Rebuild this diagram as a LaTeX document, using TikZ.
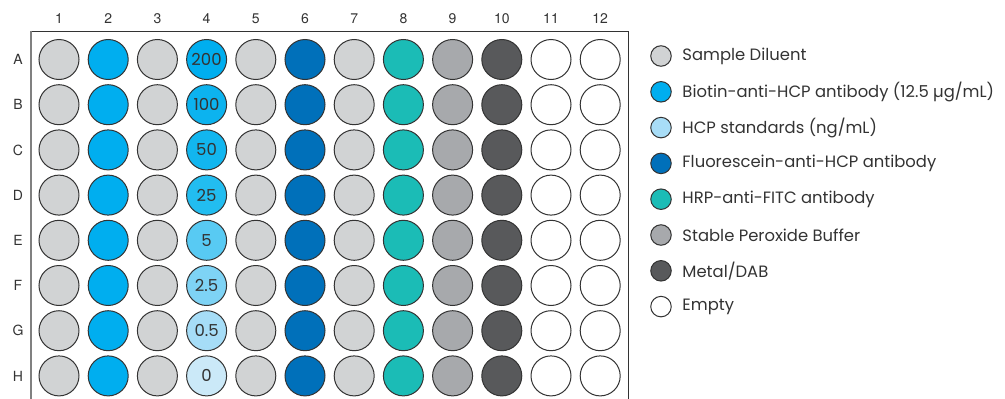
\documentclass[tikz,border=0pt]{standalone}
\usepackage{fontspec}
\setmainfont{Poppins}
\newfontfamily\axisfont{TeX Gyre Heros}
\usetikzlibrary{positioning}
\definecolor{diluent}{HTML}{D1D3D4}
\definecolor{biotin}{HTML}{00AEEF}
\definecolor{hcpstd}{HTML}{A8DDF7}
\definecolor{fluor}{HTML}{0070BA}
\definecolor{hrp}{HTML}{1BBCB6}
\definecolor{peroxide}{HTML}{A7A9AC}
\definecolor{metal}{HTML}{58595B}
\definecolor{inkgray}{HTML}{333333}
\definecolor{hcpA}{HTML}{00AEEF}
\definecolor{hcpB}{HTML}{0CB3EF}
\definecolor{hcpC}{HTML}{12B6EF}
\definecolor{hcpD}{HTML}{22BDF0}
\definecolor{hcpE}{HTML}{58CAF3}
\definecolor{hcpF}{HTML}{7ED3F5}
\definecolor{hcpG}{HTML}{A6DDF7}
\definecolor{hcpH}{HTML}{CBE9F8}
\tikzset{
    plate map/.style = {x=1pt, y=-1pt},
    well/.style      = {circle, draw=inkgray, line width=1pt,
                        minimum size=40pt, inner sep=0pt,
                        font=\fontsize{16.5}{18}\selectfont, text=inkgray},
    key/.style       = {circle, draw=inkgray, line width=1pt,
                        minimum size=20.5pt, inner sep=0pt},
    keytext/.style   = {font=\fontsize{16.4}{19}\selectfont, text=inkgray,
                        inner sep=0pt},
    axis/.style      = {font=\axisfont\fontsize{14}{16}\selectfont, text=inkgray},
    frame/.style     = {line width=1pt, draw=inkgray}
}

\begin{document}
\begin{tikzpicture}[plate map]
\useasboundingbox (0,0) rectangle (1005,399);

% ================= Plate frame =================
\draw[frame] (31,31) -- (628,31) -- (628,399);
\draw[line width=1.4pt, draw=gray] (31,30.5) -- (31,399);

% ================= Column and row labels =================
\foreach \c in {1,...,12}
    \node[axis] (col-\c) at ({59+49.2*(\c-1)}, 19) {\c};
\foreach \r [count=\i from 0] in {A,B,C,D,E,F,G,H}
    \node[axis] (row-\r) at (18, {59.5+45.2*\i}) {\r};

% ================= Wells =================
\foreach \c/\fillc in {1/diluent,2/biotin,3/diluent,5/diluent,6/fluor,
                       7/diluent,8/hrp,9/peroxide,10/metal,11/white,12/white}
    \foreach \r [count=\i from 0] in {A,B,C,D,E,F,G,H}
        \node[well, fill=\fillc] (well-\r-\c)
            at ({59+49.2*(\c-1)}, {59.5+45.2*\i}) {};

% standards, column 4
\foreach \r/\conc [count=\i from 0] in {A/200,B/100,C/50,D/25,E/5,F/2.5,G/0.5,H/0}
    \node[well, fill=hcp\r] (well-\r-4)
        at ({59+49.2*3}, {59.5+45.2*\i}) {\conc};

% ================= Legend =================
\foreach \fillc/\txt [count=\k from 0] in {
        diluent/{Sample Diluent},
        biotin/{Biotin-anti-HCP antibody (12.5 µg/mL)},
        hcpstd/{HCP standards (ng/mL)},
        fluor/{Fluorescein-anti-HCP antibody},
        hrp/{HRP-anti-FITC antibody},
        peroxide/{Stable Peroxide Buffer},
        metal/{Metal/DAB},
        white/{Empty}} {
    \node[key, fill=\fillc] (key-\k) at (661, {56+35.8*\k}) {};
    \node[keytext, right=10.5pt of key-\k] (keytext-\k) {\txt};
}

\end{tikzpicture}
\end{document}
